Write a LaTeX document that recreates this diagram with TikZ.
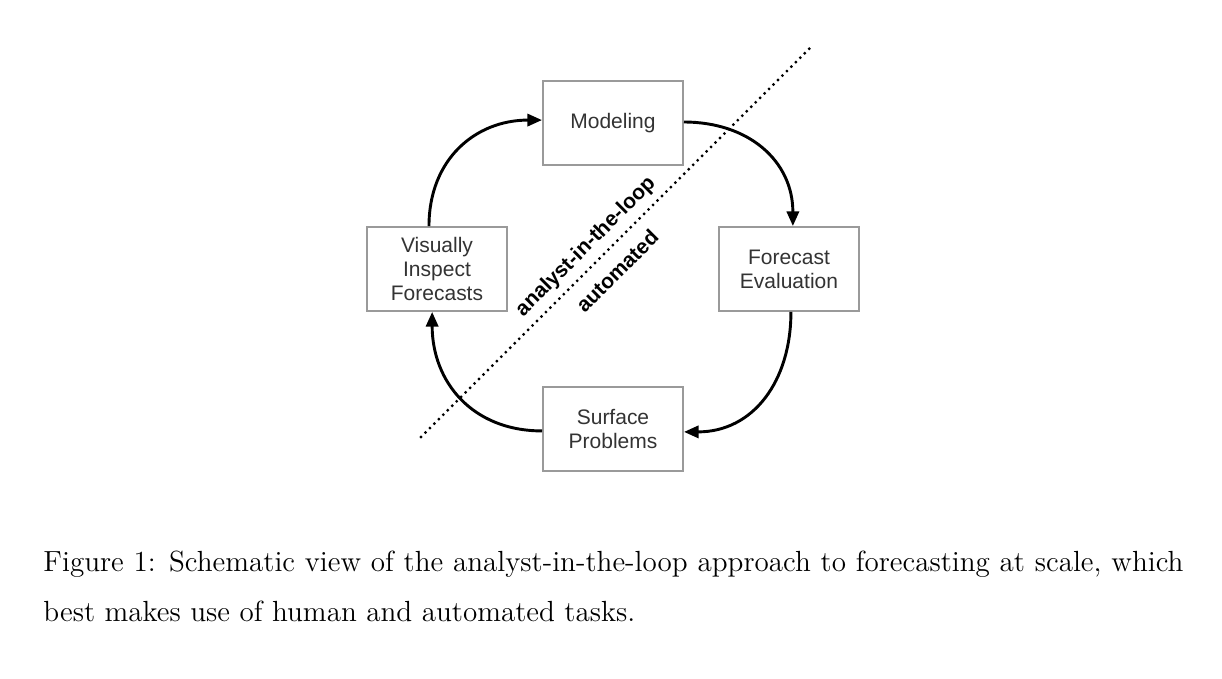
\documentclass[tikz,border=0pt]{standalone}
\usepackage{fontspec}
\setsansfont{Liberation Sans}
\usepackage{xcolor}
\definecolor{boxgray}{HTML}{9A9A9A}
\definecolor{textgray}{HTML}{333333}
\usepackage{tikz}
\usetikzlibrary{arrows.meta}

\begin{document}
\begin{tikzpicture}[x=0.412pt, y=-0.412pt,
    stage/.style={draw=boxgray, line width=0.8pt, fill=white,
      minimum width=57.7pt, minimum height=34.6pt, align=center,
      text=textgray, font=\sffamily\fontsize{8.65}{9.9}\selectfont},
    loop/.style={line width=1.2pt, -{Triangle[length=6pt,width=5pt]}},
    side/.style={font=\sffamily\bfseries\fontsize{8.65}{9.9}\selectfont, rotate=45}
]
  \useasboundingbox (0,0) rectangle (1222,679);

  % Trennlinie
  \coordinate (lineA) at (421,437);
  \coordinate (lineB) at (810,48);
  \draw[line width=1.3pt, dash pattern=on 0pt off 2.6pt, line cap=round] (lineA) -- (lineB);

  % Die vier Schritte
  \node[stage] (modeling) at (613,123) {Modeling};
  \node[stage] (evaluation) at (789,269) {Forecast\\Evaluation};
  \node[stage] (problems) at (613,429) {Surface\\Problems};
  \node[stage] (inspect) at (437,269) {Visually\\Inspect\\Forecasts};

  % Schleife
  \draw[loop] ([xshift=-3.3pt]inspect.north) to[out=90, in=180, looseness=1.1] ([yshift=1.2pt]modeling.west);
  \draw[loop] ([yshift=0.4pt]modeling.east) to[out=0, in=90, looseness=1.1] ([xshift=1.6pt]evaluation.north);
  \draw[loop] ([xshift=0.8pt]evaluation.south) to[out=-90, in=0, looseness=1.1] ([yshift=-1.2pt]problems.east);
  \draw[loop] ([yshift=-0.8pt]problems.west) to[out=180, in=-90, looseness=1.1] ([xshift=-2pt]inspect.south);

  % Beschriftung der Bereiche
  \node[side] (human) at (586,247) {analyst-in-the-loop};
  \node[side] (auto) at (617,271) {automated};

  % Bildunterschrift
  \node[anchor=base west, inner sep=0pt, font=\fontsize{12}{14}\selectfont] (capone) at (43,572)
    {\makebox[469.7pt][s]{Figure 1: Schematic view of the analyst-in-the-loop approach to forecasting at scale, which}};
  \node[anchor=base west, inner sep=0pt, font=\fontsize{12}{14}\selectfont] (captwo) at (43,622)
    {best makes use of human and automated tasks.};
\end{tikzpicture}
\end{document}
